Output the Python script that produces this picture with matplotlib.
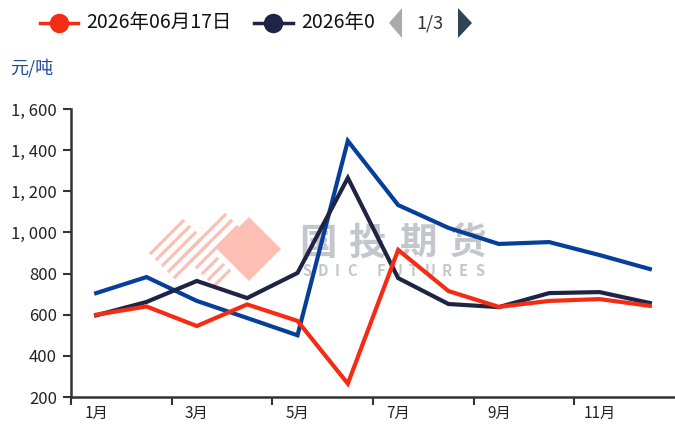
import matplotlib
matplotlib.use('Agg')
import matplotlib.pyplot as plt
from matplotlib.patches import Polygon
from matplotlib.lines import Line2D

plt.rcParams['font.family'] = ['Noto Sans CJK SC', 'DejaVu Sans']

months = ['1月', '2月', '3月', '4月', '5月', '6月', '7月', '8月', '9月', '10月', '11月', '12月']
s_0617 = [600, 640, 545, 650, 570, 265, 915, 715, 638, 667, 676, 643]
s_dark = [597, 662, 764, 681, 803, 1265, 778, 652, 637, 705, 710, 657]
s_blue = [705, 783, 667, 584, 500, 1445, 1133, 1022, 944, 953, 890, 822]
legend_names = ['2026年06月17日', '2026年0']
yticks = [200, 400, 600, 800, 1000, 1200, 1400, 1600]

RED = '#f52c14'
DARK = '#1f2446'
BLUE = '#063f99'
WM_PINK = '#fdbfb3'
WM_GRAY = '#c4c6cc'

fig = plt.figure(figsize=(6.75, 4.32), dpi=100)
ax = fig.add_axes([71 / 675, 1 - 397 / 432, 1 - 71 / 675, 288 / 432])

x = list(range(len(months)))
ax.plot(x, s_blue, color=BLUE, lw=3, zorder=3, solid_joinstyle='miter')
ax.plot(x, s_dark, color=DARK, lw=3, zorder=4, solid_joinstyle='miter')
ax.plot(x, s_0617, color=RED, lw=3, zorder=5, solid_joinstyle='miter')

ax.set_xlim(-0.5, len(months) - 0.5)
ax.set_ylim(200, 1600)
ax.set_yticks(yticks)
ax.set_yticklabels([f'{v:,}'.replace(',', ', ') for v in yticks], fontsize=12, color='#222222')

# category axis: ticks on band edges, labels on every other band
ax.set_xticks([i - 0.5 for i in range(0, 12, 2)])
ax.set_xticklabels([])
ax.set_xticks(list(range(0, 12, 2)), minor=True)
ax.set_xticklabels(months[::2], minor=True, fontsize=11, color='#222222')
ax.tick_params(axis='x', which='minor', length=0, pad=6)
ax.tick_params(axis='x', which='major', length=6, width=1.5, color='#333333')
ax.tick_params(axis='y', length=6, width=1.5, color='#333333', pad=4)

for side in ['top', 'right']:
    ax.spines[side].set_visible(False)
for side in ['left', 'bottom']:
    ax.spines[side].set_color('#333333')
    ax.spines[side].set_linewidth(1.8)

# watermark (pixel positions converted to axes fraction)
tr = ax.transAxes
def px(xp, yp):
    return ((xp - 71) / 604, (397 - yp) / 288)

def stripe(x0, y0, ln):
    a, b = px(x0, y0), px(x0 + ln, y0 - ln)
    ax.add_line(Line2D([a[0], b[0]], [a[1], b[1]], transform=tr,
                       color=WM_PINK, lw=2.3, zorder=1))

cx, cy, r = 249, 249, 32
ax.add_patch(Polygon([px(cx, cy - r), px(cx + r, cy), px(cx, cy + r), px(cx - r, cy)],
                     closed=True, transform=tr, color=WM_PINK, lw=0, zorder=1))
for i in range(5):
    stripe(151 + i * 6, 253 + i * 6, 32)
for i in range(6):
    stripe(185 + i * 6, 255 + i * 6, 40 if i < 3 else 14)

for i, ch in enumerate('国投期货'):
    ax.text(*px(318 + i * 50, 243), ch, transform=tr, ha='center', va='center',
            fontsize=27, color=WM_GRAY, fontweight='bold', zorder=1)
letter_x = [307, 323, 337, 352, 381, 397, 413, 430, 447, 463, 480]
for ch, xp in zip('SDICFUTURES', letter_x):
    ax.text(*px(xp, 271), ch, transform=tr, ha='center', va='center',
            fontsize=10.5, color=WM_GRAY, fontweight='bold', zorder=1)

# legend drawn by hand
def fx(xp):
    return xp / 675
def fy(yp):
    return 1 - yp / 432

fig.add_artist(Line2D([fx(40), fx(78)], [fy(23), fy(23)], color=RED, lw=2.5))
fig.add_artist(Line2D([fx(59)], [fy(23)], marker='o', markersize=13, color=RED))
fig.text(fx(86), fy(23), legend_names[0], fontsize=14, va='center', color='#111111')
fig.add_artist(Line2D([fx(254), fx(293)], [fy(23), fy(23)], color=DARK, lw=2.5))
fig.add_artist(Line2D([fx(273)], [fy(23)], marker='o', markersize=13, color=DARK))
fig.text(fx(301), fy(23), legend_names[1], fontsize=14, va='center', color='#111111')
fig.add_artist(Polygon([(fx(402), fy(8)), (fx(402), fy(38)), (fx(389), fy(23))],
                       closed=True, transform=fig.transFigure, color='#aaaaaa', lw=0))
fig.text(fx(430), fy(23), '1/3', fontsize=13, ha='center', va='center', color='#333333')
fig.add_artist(Polygon([(fx(458), fy(8)), (fx(458), fy(38)), (fx(472), fy(23))],
                       closed=True, transform=fig.transFigure, color='#2f4554', lw=0))

fig.text(fx(10), fy(68), '元/吨', fontsize=13, va='center', color='#1f4c9c')

fig.savefig('out.png', dpi=100)
